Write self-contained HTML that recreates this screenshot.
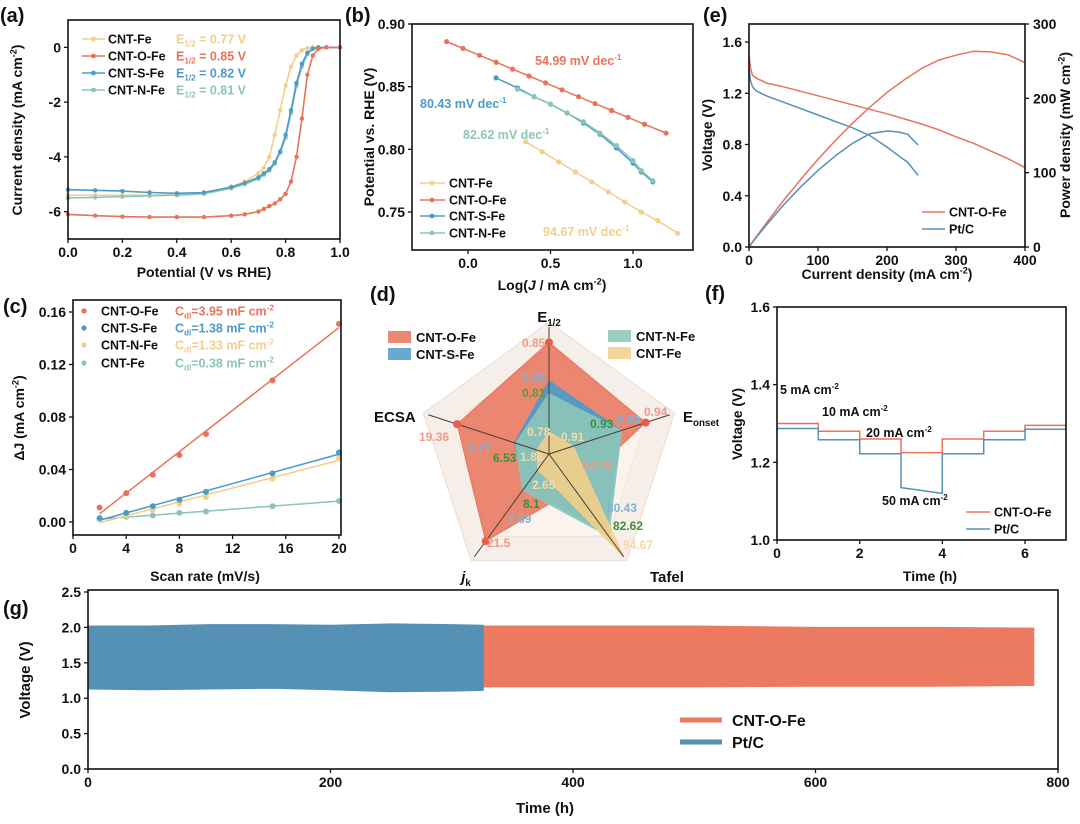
<!DOCTYPE html>
<html><head><meta charset="utf-8"><style>
html,body{margin:0;padding:0;background:#fff}
svg{display:block;font-family:"Liberation Sans",Arial,sans-serif;font-weight:bold}
</style></head><body>
<svg id="fig" width="1080" height="824" viewBox="0 0 1080 824" xmlns="http://www.w3.org/2000/svg"></svg>
<script>
// ---------- data ----------
const lsvPotential=[0,0.1,0.2,0.3,0.4,0.5,0.6,0.65,0.7,0.72,0.74,0.76,0.78,0.8,0.82,0.84,0.86,0.88,0.9,0.92,0.95,1.0];
const lsvO=[-6.1,-6.15,-6.18,-6.2,-6.2,-6.2,-6.15,-6.1,-6.0,-5.9,-5.8,-5.7,-5.55,-5.35,-4.9,-4.0,-2.6,-1.0,-0.3,-0.05,0,0];
const lsvS=[-5.2,-5.22,-5.25,-5.3,-5.33,-5.3,-5.1,-4.95,-4.75,-4.6,-4.45,-4.2,-3.8,-3.2,-2.3,-1.3,-0.6,-0.2,-0.05,0,0,0];
const lsvN=[-5.5,-5.48,-5.45,-5.42,-5.4,-5.35,-5.15,-5.0,-4.8,-4.65,-4.5,-4.25,-3.85,-3.3,-2.4,-1.4,-0.7,-0.25,-0.05,0,0,0];
const lsvFe=[-5.4,-5.4,-5.4,-5.4,-5.38,-5.3,-5.1,-4.9,-4.6,-4.4,-4.0,-3.2,-2.3,-1.4,-0.7,-0.3,-0.1,-0.03,0,0,0,0];
const e12Labels=["E1/2 = 0.77 V","E1/2 = 0.85 V","E1/2 = 0.82 V","E1/2 = 0.81 V"];

const tafOx=[-0.13,-0.03,0.07,0.17,0.27,0.37,0.47,0.57,0.67,0.77,0.87,0.97,1.07,1.2];
const tafOy=[0.886,0.8805,0.875,0.8695,0.864,0.8585,0.853,0.8475,0.842,0.8365,0.831,0.8255,0.82,0.813];
const tafSx=[0.17,0.3,0.4,0.5,0.6,0.7,0.8,0.9,1.0,1.05,1.12];
const tafSy=[0.857,0.849,0.842,0.836,0.829,0.821,0.812,0.801,0.789,0.782,0.774];
const tafNx=[0.3,0.4,0.5,0.6,0.7,0.8,0.9,1.0,1.05,1.12];
const tafNy=[0.848,0.842,0.836,0.829,0.822,0.813,0.803,0.791,0.783,0.775];
const tafFx=[0.35,0.45,0.55,0.65,0.75,0.85,0.95,1.05,1.15,1.27];
const tafFy=[0.806,0.798,0.790,0.782,0.774,0.766,0.758,0.750,0.743,0.733];

const scanRate=[2,4,6,8,10,15,20];
const dJO=[0.011,0.022,0.036,0.051,0.067,0.108,0.151];
const dJS=[0.003,0.007,0.012,0.017,0.023,0.037,0.053];
const dJN=[0.002,0.005,0.009,0.014,0.019,0.033,0.049];
const dJFe=[0.002,0.004,0.005,0.007,0.008,0.012,0.016];

const radarAxes=["E1/2","Eonset","Tafel","jk","ECSA"];
const radarO=[0.85,0.94,54.99,21.5,19.36];
const radarS=[0.82,0.93,80.43,7.69,6.77];
const radarN=[0.81,0.93,82.62,8.1,6.53];
const radarFe=[0.78,0.91,94.67,2.65,1.86];

const pemJO=[0,2,5,10,25,50,75,100,125,150,175,200,225,250,275,300,325,350,375,400];
const pemVO=[1.5,1.4,1.34,1.32,1.28,1.25,1.215,1.18,1.145,1.11,1.075,1.04,1.0,0.96,0.915,0.86,0.81,0.75,0.69,0.62];
const pemJPt=[0,2,5,10,25,50,75,100,125,150,175,200,215,230,245];
const pemVPt=[1.4,1.3,1.25,1.22,1.18,1.13,1.08,1.03,0.98,0.93,0.87,0.78,0.72,0.66,0.56];

const stepStartO=[1.30,1.28,1.26,1.225,1.26,1.28,1.295];
const stepEndO=[1.30,1.28,1.26,1.225,1.26,1.28,1.295];
const stepStartPt=[1.287,1.258,1.222,1.135,1.222,1.258,1.285];
const stepEndPt=[1.287,1.258,1.222,1.12,1.222,1.258,1.285];

const longTPt=[0,50,100,150,200,250,300,326];
const longUpPt=[2.02,2.02,2.04,2.04,2.03,2.05,2.04,2.03];
const longLoPt=[1.13,1.12,1.13,1.14,1.12,1.09,1.10,1.11];
const longTO=[326,400,500,600,700,780];
const longUpO=[2.02,2.02,2.02,2.0,2.0,1.99];
const longLoO=[1.16,1.16,1.16,1.17,1.17,1.18];

// ---------- helpers ----------
const NS="http://www.w3.org/2000/svg";
const svg=document.getElementById('fig');
const cO="#e8735a",cS="#4a9bc9",cN="#8cc5b8",cFe="#f2cf8a",cPt="#5591b5";
function add(par,tag,attrs,name,txt){
  const el=document.createElementNS(NS,tag);
  for(const k in attrs) el.setAttribute(k,attrs[k]);
  
  
  if(txt!==undefined) el.textContent=txt;
  par.appendChild(el);
  return el;
}
function lin(d0,d1,p0,p1){return v=>p0+(v-d0)/(d1-d0)*(p1-p0);}
function tx(par,x,y,s,size,name,anchor,fill,rot){
  const a={x:x,y:y,'font-size':size,'text-anchor':anchor||'middle',fill:fill||'#111'};
  if(rot) a.transform=`rotate(${rot} ${x} ${y})`;
  return add(par,'text',a,name,s);
}
function richText(par,x,y,parts,size,name,anchor,fill,rot){
  const a={x:x,y:y,'font-size':size,'text-anchor':anchor||'middle',fill:fill||'#111'};
  if(rot) a.transform=`rotate(${rot} ${x} ${y})`;
  const t=add(par,'text',a,name);
  parts.forEach(p=>{
    const ts=add(t,'tspan',{},name+'-part',p[0]);
    if(p[1]==='sup'){ts.setAttribute('font-size',size*0.65);ts.setAttribute('dy',-size*0.4);}
    if(p[1]==='sub'){ts.setAttribute('font-size',size*0.65);ts.setAttribute('dy',size*0.25);}
    if(p[1]==='back'){ts.setAttribute('dy',p[2]);}
    if(p[1]==='it'){ts.setAttribute('font-style','italic');}
  });
  return t;
}
function frame(g,x0,y0,x1,y1,name){
  add(g,'rect',{x:x0,y:y0,width:x1-x0,height:y1-y0,fill:'none',stroke:'#111','stroke-width':1.6},name);
}
function xticks(g,sx,vals,y,fmt,name,len){
  vals.forEach(v=>{
    add(g,'line',{x1:sx(v),x2:sx(v),y1:y,y2:y+(len||4),stroke:'#111','stroke-width':1.3},name+'-tick');
    tx(g,sx(v),y+18,fmt(v),14,name+'-label');
  });
}
function yticks(g,sy,vals,x,fmt,name,right){
  vals.forEach(v=>{
    add(g,'line',{x1:x,x2:right?x+4:x-4,y1:sy(v),y2:sy(v),stroke:'#111','stroke-width':1.3},name+'-tick');
    tx(g,right?x+8:x-7,sy(v)+5,fmt(v),14,name+'-label',right?'start':'end');
  });
}
function path(g,xs,ys,sx,sy,col,w,name){
  const d=xs.map((v,i)=>(i?'L':'M')+sx(v).toFixed(1)+' '+sy(ys[i]).toFixed(1)).join(' ');
  return add(g,'path',{d:d,fill:'none',stroke:col,'stroke-width':w||1.5,'stroke-linejoin':'round'},name);
}
function dots(g,xs,ys,sx,sy,col,r,name){
  xs.forEach((v,i)=>add(g,'circle',{cx:sx(v),cy:sy(ys[i]),r:r,fill:col},name));
}
function f1(v){return v.toFixed(1);} function f2(v){return v.toFixed(2);}

// ---------- (a) ----------
(function(){
  const g=add(svg,'g',{},'panel-a');
  const sx=lin(0,1,68,340), sy=lin(-7,1,239,20);
  tx(g,0,22,'(a)',20,'panel-a-label','start');
  [[lsvFe,cFe,'cnt-fe'],[lsvN,cN,'cnt-n-fe'],[lsvS,cS,'cnt-s-fe'],[lsvO,cO,'cnt-o-fe']].forEach(s=>{
    path(g,lsvPotential,s[0],sx,sy,s[1],1.6,'lsv-line-'+s[2]);
    dots(g,lsvPotential,s[0],sx,sy,s[1],2.2,'lsv-point-'+s[2]);
  });
  frame(g,68,20,340,239,'panel-a-frame');
  xticks(g,sx,[0,0.2,0.4,0.6,0.8,1.0],239,f1,'a-x');
  yticks(g,sy,[-6,-4,-2,0],68,v=>String(v),'a-y');
  tx(g,204,277,'Potential (V vs RHE)',14,'a-x-title');
  richText(g,22,130,[['Current density (mA cm'],['-2','sup'],[')','back',5]],14,'a-y-title','middle','#111',-90);
  const names=['CNT-Fe','CNT-O-Fe','CNT-S-Fe','CNT-N-Fe'], cols=[cFe,cO,cS,cN], ys=[39,56,73,90];
  names.forEach((n,i)=>{
    add(g,'line',{x1:82,x2:105,y1:ys[i],y2:ys[i],stroke:cols[i],'stroke-width':1.6},'a-legend-line');
    add(g,'circle',{cx:93.5,cy:ys[i],r:2.4,fill:cols[i]},'a-legend-marker');
    tx(g,108,ys[i]+4.5,n,12.5,'a-legend-entry','start');
    const p=e12Labels[i].split(' = ');
    richText(g,176,ys[i]+4.5,[['E'],['1/2','sub'],[' = '+p[1],'back',-3]],12.5,'a-e12-label','start',cols[i]);
  });
})();

// ---------- (b) ----------
(function(){
  const g=add(svg,'g',{},'panel-b');
  const sx=lin(0,1,468,633), sy=lin(0.75,0.9,212,24);
  tx(g,345,22,'(b)',20,'panel-b-label','start');
  [[tafFx,tafFy,cFe,'cnt-fe'],[tafOx,tafOy,cO,'cnt-o-fe'],[tafSx,tafSy,cS,'cnt-s-fe'],[tafNx,tafNy,cN,'cnt-n-fe']].forEach(s=>{
    path(g,s[0],s[1],sx,sy,s[2],1.5,'tafel-line-'+s[3]);
    dots(g,s[0],s[1],sx,sy,s[2],2.6,'tafel-point-'+s[3]);
  });
  frame(g,412,24,693,250,'panel-b-frame');
  xticks(g,sx,[0,0.5,1.0],250,f1,'b-x');
  yticks(g,sy,[0.75,0.8,0.85,0.9],412,f2,'b-y');
  richText(g,552,290,[['Log('],['J','it'],[' / mA cm'],['-2','sup'],[')','back',5]],14,'b-x-title');
  tx(g,374,137,'Potential vs. RHE (V)',14,'b-y-title','middle','#111',-90);
  [['54.99 mV dec',535,65,cO],['80.43 mV dec',420,108,cS],['82.62 mV dec',463,139,cN],['94.67 mV dec',543,236,cFe]].forEach(t=>{
    richText(g,t[1],t[2],[[t[0]],['-1','sup']],12.5,'tafel-slope-label','start',t[3]);
  });
  const names=['CNT-Fe','CNT-O-Fe','CNT-S-Fe','CNT-N-Fe'], cols=[cFe,cO,cS,cN], ys=[183,200,216,233];
  names.forEach((n,i)=>{
    add(g,'line',{x1:420,x2:445,y1:ys[i],y2:ys[i],stroke:cols[i],'stroke-width':1.6},'b-legend-line');
    add(g,'circle',{cx:432,cy:ys[i],r:2.4,fill:cols[i]},'b-legend-marker');
    tx(g,449,ys[i]+4.5,n,12.5,'b-legend-entry','start');
  });
})();

// ---------- (e) ----------
(function(){
  const g=add(svg,'g',{},'panel-e');
  const sx=lin(0,400,749,1025), sy=lin(0,1.6,247,42), sp=lin(0,300,247,24);
  tx(g,703,22,'(e)',20,'panel-e-label','start');
  path(g,pemJO,pemVO,sx,sy,cO,1.5,'voltage-curve-cnt-o-fe');
  path(g,pemJPt,pemVPt,sx,sy,cPt,1.5,'voltage-curve-pt-c');
  const pO=pemJO.map((j,i)=>j*pemVO[i]), pPt=pemJPt.map((j,i)=>j*pemVPt[i]);
  path(g,pemJO,pO,sx,sp,cO,1.5,'power-curve-cnt-o-fe');
  path(g,pemJPt,pPt,sx,sp,cPt,1.5,'power-curve-pt-c');
  frame(g,749,24,1025,247,'panel-e-frame');
  xticks(g,sx,[0,100,200,300,400],247,v=>String(v),'e-x');
  yticks(g,sy,[0,0.4,0.8,1.2,1.6],749,f1,'e-y-left');
  yticks(g,sp,[0,100,200,300],1025,v=>String(v),'e-y-right',true);
  richText(g,887,279,[['Current density (mA cm'],['-2','sup'],[')','back',5]],14,'e-x-title');
  tx(g,712,135,'Voltage (V)',14,'e-y-left-title','middle','#111',-90);
  richText(g,1070,135,[['Power density (mW cm'],['-2','sup'],[')','back',5]],14,'e-y-right-title','middle','#111',-90);
  [['CNT-O-Fe',cO,212],['Pt/C',cPt,229]].forEach(l=>{
    add(g,'line',{x1:922,x2:945,y1:l[2],y2:l[2],stroke:l[1],'stroke-width':1.6},'e-legend-line');
    tx(g,949,l[2]+4.5,l[0],12.5,'e-legend-entry','start');
  });
})();

// ---------- (c) ----------
(function(){
  const g=add(svg,'g',{},'panel-c');
  const sx=lin(0,20,73,339), sy=lin(0,0.16,522,312);
  tx(g,3,313,'(c)',20,'panel-c-label','start');
  function fit(ys){const n=scanRate.length;let mx=0,my=0;scanRate.forEach((x,i)=>{mx+=x;my+=ys[i];});mx/=n;my/=n;let a=0,b=0;scanRate.forEach((x,i)=>{a+=(x-mx)*(ys[i]-my);b+=(x-mx)*(x-mx);});const k=a/b;return [my-k*mx,k];}
  [[dJFe,cN,'cnt-fe'],[dJN,cFe,'cnt-n-fe'],[dJS,cS,'cnt-s-fe'],[dJO,cO,'cnt-o-fe']].forEach(s=>{
    const f=fit(s[0]);
    const x0=scanRate[0],x1=scanRate[scanRate.length-1];
    add(g,'line',{x1:sx(x0),x2:sx(x1),y1:sy(f[0]+f[1]*x0),y2:sy(f[0]+f[1]*x1),stroke:s[1],'stroke-width':1.5},'cdl-fit-line-'+s[2]);
    dots(g,scanRate,s[0],sx,sy,s[1],3,'cdl-point-'+s[2]);
  });
  frame(g,73,300,341,535,'panel-c-frame');
  xticks(g,sx,[0,4,8,12,16,20],535,v=>String(v),'c-x');
  yticks(g,sy,[0,0.04,0.08,0.12,0.16],73,f2,'c-y');
  tx(g,205,581,'Scan rate (mV/s)',14,'c-x-title');
  richText(g,24,418,[['ΔJ (mA cm'],['-2','sup'],[')','back',5]],14,'c-y-title','middle','#111',-90);
  [['CNT-O-Fe','3.95',cO,311],['CNT-S-Fe','1.38',cS,328],['CNT-N-Fe','1.33',cFe,345],['CNT-Fe','0.38',cN,363]].forEach(l=>{
    add(g,'circle',{cx:84,cy:l[3],r:2.6,fill:l[2]},'c-legend-marker');
    tx(g,101,l[3]+4.5,l[0],12.5,'c-legend-entry','start');
    richText(g,175,l[3]+4.5,[['C'],['dl','sub'],['='+l[1]+' mF cm','back',-3],['-2','sup']],12.5,'c-cdl-label','start',l[2]);
  });
})();

// ---------- (d) radar ----------
(function(){
  const g=add(svg,'g',{},'panel-d');
  const cx=549,cy=454,R=127;
  const lo=[0.763,0.9,34.5,-1.4,-0.79], hi=[0.862,0.95,94.67,25.6,25.7];
  const ang=[-90,-18,54,126,198].map(a=>a*Math.PI/180);
  function pt(i,f){return [cx+Math.cos(ang[i])*f*R, cy+Math.sin(ang[i])*f*R];}
  function poly(vals){return vals.map((v,i)=>pt(i,Math.max(0.03,(v-lo[i])/(hi[i]-lo[i]))).map(n=>n.toFixed(1)).join(',')).join(' ');}
  tx(g,370,301,'(d)',20,'panel-d-label','start');
  add(g,'polygon',{points:[0,1,2,3,4].map(i=>pt(i,1.04).join(',')).join(' '),fill:'#f6eee9',stroke:'#e9dcd6'},'radar-background');
  add(g,'polygon',{points:[0,1,2,3,4].map(i=>pt(i,0.8).join(',')).join(' '),fill:'#fbf3ee',stroke:'#eee3dd'},'radar-grid');
  [[radarO,cO,0.85,'cnt-o-fe'],[radarS,cS,0.9,'cnt-s-fe'],[radarN,cN,0.9,'cnt-n-fe'],[radarFe,cFe,0.9,'cnt-fe']].forEach(s=>{
    add(g,'polygon',{points:poly(s[0]),fill:s[1],'fill-opacity':s[2],stroke:s[1],'stroke-width':1},'radar-area-'+s[3]);
  });
  [0,1,2,3,4].forEach(i=>{const p=pt(i,1.0);add(g,'line',{x1:cx,y1:cy,x2:p[0],y2:p[1],stroke:'#4a3a36','stroke-width':1},'radar-axis');});
  radarO.forEach((v,i)=>{const p=pt(i,(v-lo[i])/(hi[i]-lo[i]));if(i!==2)add(g,'circle',{cx:p[0],cy:p[1],r:4,fill:'#e0604a'},'radar-vertex-cnt-o-fe');});
  richText(g,549,322,[['E'],['1/2','sub']],15,'radar-axis-e12');
  richText(g,683,422,[['E'],['onset','sub']],15,'radar-axis-eonset','start');
  tx(g,374,422,'ECSA',15,'radar-axis-ecsa','start');
  richText(g,466,582,[['j','it'],['k','sub']],15,'radar-axis-jk');
  tx(g,650,582,'Tafel',15,'radar-axis-tafel','start');
  const lab=[['0.85',522,347,'#ee9a88'],['0.82',522,381,'#7fb2d6'],['0.81',522,397,'#5a9a3a'],['0.94',644,416,'#ee9a88'],['0.93',617,424,'#7fb2d6'],['0.93',590,428,'#3e8f3a'],
    ['0.78',527,436,'#f4d9a8'],['0.91',561,441,'#f4d9a8'],['54.99',582,469,'#ee9a88'],['80.43',607,512,'#7fb2d6'],['82.62',613,530,'#3e8f3a'],['94.67',623,549,'#f4d9a8'],
    ['21.5',487,547,'#ee9a88'],['7.69',508,523,'#7fb2d6'],['8.1',523,508,'#3e8f3a'],['2.65',532,489,'#f4d9a8'],['1.86',520,461,'#f4d9a8'],['6.53',493,462,'#3e8f3a'],['6.77',468,452,'#7fb2d6'],['19.36',419,441,'#ee9a88']];
  lab.forEach(l=>tx(g,l[1],l[2],l[0],12,'radar-value-label','start',l[3]));
  [['CNT-O-Fe',cO,388,337],['CNT-S-Fe',cS,388,354],['CNT-N-Fe',cN,608,336],['CNT-Fe',cFe,608,353]].forEach(l=>{
    add(g,'rect',{x:l[2],y:l[3]-6,width:23,height:12,fill:l[1],'fill-opacity':0.85},'d-legend-swatch');
    tx(g,l[2]+28,l[3]+5,l[0],13,'d-legend-entry','start');
  });
})();

// ---------- (f) ----------
(function(){
  const g=add(svg,'g',{},'panel-f');
  const sx=lin(0,6,777,1025), sy=lin(1.0,1.6,540,307);
  tx(g,705,300,'(f)',20,'panel-f-label','start');
  function steps(st,en,col,name){
    let d='';
    st.forEach((v,i)=>{d+=(i?'L':'M')+sx(i).toFixed(1)+' '+sy(v).toFixed(1)+' L'+sx(i+1).toFixed(1)+' '+sy(en[i]).toFixed(1)+' ';});
    add(g,'path',{d:d,fill:'none',stroke:col,'stroke-width':1.5},name);
  }
  steps(stepStartO,stepEndO,cO,'step-line-cnt-o-fe');
  steps(stepStartPt,stepEndPt,cPt,'step-line-pt-c');
  frame(g,777,307,1066,540,'panel-f-frame');
  xticks(g,sx,[0,2,4,6],540,v=>String(v),'f-x');
  yticks(g,sy,[1.0,1.2,1.4,1.6],777,f1,'f-y');
  tx(g,930,581,'Time (h)',14,'f-x-title');
  tx(g,742,424,'Voltage (V)',14,'f-y-title','middle','#111',-90);
  [['5 mA cm',780,394],['10 mA cm',822,416],['20 mA cm',866,437],['50 mA cm',882,505]].forEach(a=>{
    richText(g,a[1],a[2],[[a[0]],['-2','sup']],12.5,'current-step-annotation','start');
  });
  [['CNT-O-Fe',cO,512],['Pt/C',cPt,529]].forEach(l=>{
    add(g,'line',{x1:966,x2:990,y1:l[2],y2:l[2],stroke:l[1],'stroke-width':1.6},'f-legend-line');
    tx(g,994,l[2]+4.5,l[0],12.5,'f-legend-entry','start');
  });
})();

// ---------- (g) ----------
(function(){
  const g=add(svg,'g',{},'panel-g');
  const sx=lin(0,800,88,1058), sy=lin(0,2.5,769,592);
  tx(g,3,615,'(g)',20,'panel-g-label','start');
  function band(ts,up,lo,col,name){
    let d=ts.map((t,i)=>(i?'L':'M')+sx(t).toFixed(1)+' '+sy(up[i]).toFixed(1)).join(' ');
    for(let i=ts.length-1;i>=0;i--) d+=' L'+sx(ts[i]).toFixed(1)+' '+sy(lo[i]).toFixed(1);
    add(g,'path',{d:d+' Z',fill:col,stroke:col,'stroke-width':1},name);
  }
  band(longTO,longUpO,longLoO,'#ec7a60','stability-band-cnt-o-fe');
  band(longTPt,longUpPt,longLoPt,'#5591b5','stability-band-pt-c');
  frame(g,88,590,1058,769,'panel-g-frame');
  xticks(g,sx,[0,200,400,600,800],769,v=>String(v),'g-x');
  yticks(g,sy,[0,0.5,1.0,1.5,2.0,2.5],88,f1,'g-y');
  tx(g,545,813,'Time (h)',15,'g-x-title');
  tx(g,30,680,'Voltage (V)',15,'g-y-title','middle','#111',-90);
  [['CNT-O-Fe','#ec7a60',720],['Pt/C','#5591b5',742]].forEach(l=>{
    add(g,'line',{x1:680,x2:722,y1:l[2],y2:l[2],stroke:l[1],'stroke-width':5},'g-legend-line');
    tx(g,732,l[2]+6,l[0],16,'g-legend-entry','start');
  });
})();
</script>
</body></html>
